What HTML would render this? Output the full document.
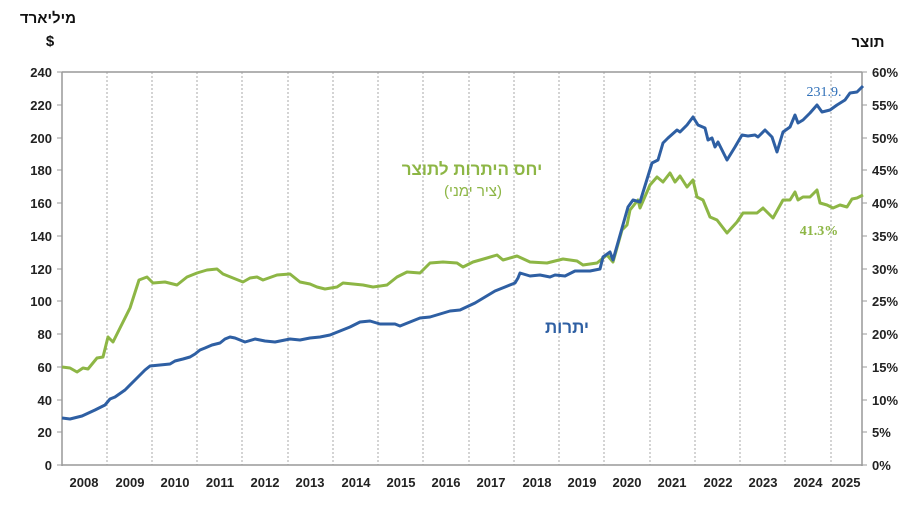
<!DOCTYPE html>
<html><head><meta charset="utf-8"><style>
html,body{margin:0;padding:0;background:#fff;}
svg{display:block;font-family:"Liberation Sans",sans-serif;}
.t{font-size:13px;font-weight:bold;fill:#222;}
</style></head><body>
<svg width="906" height="528" viewBox="0 0 906 528" xmlns="http://www.w3.org/2000/svg">
<rect width="906" height="528" fill="#fff"/>
<g stroke="#aaa" stroke-width="1" stroke-dasharray="2,2">
<line x1="107" y1="72" x2="107" y2="465"/><line x1="152" y1="72" x2="152" y2="465"/><line x1="197" y1="72" x2="197" y2="465"/><line x1="242" y1="72" x2="242" y2="465"/><line x1="288" y1="72" x2="288" y2="465"/><line x1="333" y1="72" x2="333" y2="465"/><line x1="378" y1="72" x2="378" y2="465"/><line x1="423" y1="72" x2="423" y2="465"/><line x1="469" y1="72" x2="469" y2="465"/><line x1="514" y1="72" x2="514" y2="465"/><line x1="559" y1="72" x2="559" y2="465"/><line x1="604" y1="72" x2="604" y2="465"/><line x1="650" y1="72" x2="650" y2="465"/><line x1="695" y1="72" x2="695" y2="465"/><line x1="740" y1="72" x2="740" y2="465"/><line x1="785" y1="72" x2="785" y2="465"/><line x1="831" y1="72" x2="831" y2="465"/>
</g>
<g stroke="#999" stroke-width="1.5" fill="none">
<line x1="62" y1="72" x2="862" y2="72"/>
<line x1="62" y1="72" x2="62" y2="466"/>
<line x1="862" y1="72" x2="862" y2="466"/>
<line x1="62" y1="465" x2="862" y2="465"/>
</g>
<g stroke="#999" stroke-width="1">
<line x1="57" y1="72" x2="62" y2="72"/><line x1="57" y1="105" x2="62" y2="105"/><line x1="57" y1="138" x2="62" y2="138"/><line x1="57" y1="170" x2="62" y2="170"/><line x1="57" y1="203" x2="62" y2="203"/><line x1="57" y1="236" x2="62" y2="236"/><line x1="57" y1="269" x2="62" y2="269"/><line x1="57" y1="301" x2="62" y2="301"/><line x1="57" y1="334" x2="62" y2="334"/><line x1="57" y1="367" x2="62" y2="367"/><line x1="57" y1="400" x2="62" y2="400"/><line x1="57" y1="432" x2="62" y2="432"/><line x1="57" y1="465" x2="62" y2="465"/>
<line x1="862" y1="72" x2="867" y2="72"/><line x1="862" y1="105" x2="867" y2="105"/><line x1="862" y1="138" x2="867" y2="138"/><line x1="862" y1="170" x2="867" y2="170"/><line x1="862" y1="203" x2="867" y2="203"/><line x1="862" y1="236" x2="867" y2="236"/><line x1="862" y1="269" x2="867" y2="269"/><line x1="862" y1="301" x2="867" y2="301"/><line x1="862" y1="334" x2="867" y2="334"/><line x1="862" y1="367" x2="867" y2="367"/><line x1="862" y1="400" x2="867" y2="400"/><line x1="862" y1="432" x2="867" y2="432"/><line x1="862" y1="465" x2="867" y2="465"/>
</g>
<g class="t" text-anchor="end">
<text x="52" y="77" class="t">240</text><text x="52" y="110" class="t">220</text><text x="52" y="143" class="t">200</text><text x="52" y="175" class="t">180</text><text x="52" y="208" class="t">160</text><text x="52" y="241" class="t">140</text><text x="52" y="274" class="t">120</text><text x="52" y="306" class="t">100</text><text x="52" y="339" class="t">80</text><text x="52" y="372" class="t">60</text><text x="52" y="405" class="t">40</text><text x="52" y="437" class="t">20</text><text x="52" y="470" class="t">0</text>
</g>
<g text-anchor="start">
<text x="872" y="77" class="t">60%</text><text x="872" y="110" class="t">55%</text><text x="872" y="143" class="t">50%</text><text x="872" y="175" class="t">45%</text><text x="872" y="208" class="t">40%</text><text x="872" y="241" class="t">35%</text><text x="872" y="274" class="t">30%</text><text x="872" y="306" class="t">25%</text><text x="872" y="339" class="t">20%</text><text x="872" y="372" class="t">15%</text><text x="872" y="405" class="t">10%</text><text x="872" y="437" class="t">5%</text><text x="872" y="470" class="t">0%</text>
</g>
<g text-anchor="middle">
<text x="84" y="487" class="t">2008</text><text x="130" y="487" class="t">2009</text><text x="175" y="487" class="t">2010</text><text x="220" y="487" class="t">2011</text><text x="265" y="487" class="t">2012</text><text x="310" y="487" class="t">2013</text><text x="356" y="487" class="t">2014</text><text x="401" y="487" class="t">2015</text><text x="446" y="487" class="t">2016</text><text x="491" y="487" class="t">2017</text><text x="537" y="487" class="t">2018</text><text x="582" y="487" class="t">2019</text><text x="627" y="487" class="t">2020</text><text x="672" y="487" class="t">2021</text><text x="718" y="487" class="t">2022</text><text x="763" y="487" class="t">2023</text><text x="808" y="487" class="t">2024</text><text x="846" y="487" class="t">2025</text>
</g>
<text x="48" y="23" text-anchor="middle" style="font-size:15px;font-weight:bold;fill:#111">מיליארד</text>
<text x="50" y="46" text-anchor="middle" style="font-size:15px;font-weight:bold;fill:#111">$</text>
<text x="868" y="47" text-anchor="middle" style="font-size:15px;font-weight:bold;fill:#111">תוצר</text>
<polyline fill="none" stroke="#8db645" stroke-width="3" stroke-linejoin="round" points="62,367 70,368 77,372 83,368 88,369 97,358 103,357 108,337 113,342 120,328 130,308 139,280 147,277 153,283 165,282 177,285 187,277 197,273 207,270 217,269 223,274 233,278 243,282 250,278 257,277 263,280 277,275 290,274 300,282 310,284 317,287 325,289 337,287 343,283 363,285 373,287 387,285 397,277 407,272 420,273 430,263 443,262 457,263 463,267 473,262 487,258 497,255 503,260 517,256 530,262 547,263 563,259 577,261 583,265 597,263 607,255 613,262 622,230 627,225 630,210 638,200 640,208 650,185 657,177 663,182 670,173 675,182 680,176 687,187 693,180 697,197 703,200 710,217 717,220 727,233 737,222 743,213 757,213 763,208 773,218 783,200 790,200 795,192 798,200 803,197 810,197 817,190 820,203 827,205 833,208 840,205 847,207 852,199 857,198 863,195"/>
<polyline fill="none" stroke="#2e5fa3" stroke-width="3" stroke-linejoin="round" points="62,418 70,419 82,416 95,410 105,405 110,399 115,397 125,390 135,380 140,375 145,370 150,366 160,365 170,364 175,361 183,359 190,357 195,354 200,350 205,348 212,345 220,343 225,339 230,337 235,338 245,342 255,339 265,341 275,342 290,339 300,340 310,338 320,337 330,335 340,331 350,327 360,322 370,321 380,324 395,324 400,326 410,322 420,318 430,317 440,314 450,311 460,310 475,303 485,297 495,291 505,287 515,283 518,278 520,273 530,276 540,275 550,277 555,275 565,276 575,271 590,271 600,269 603,257 610,252 613,260 628,207 633,200 640,202 652,163 658,160 663,143 668,138 677,130 680,132 687,125 693,117 698,125 705,128 708,140 712,138 715,147 718,142 727,160 735,147 742,135 748,136 755,135 758,137 765,130 772,137 777,152 783,132 790,127 795,115 798,123 803,120 810,113 817,105 822,112 830,110 837,105 845,100 850,93 857,92 863,86"/>
<text x="472" y="175" text-anchor="middle" style="font-size:17px;font-weight:bold;fill:#8db645">יחס היתרות לתוצר</text>
<text x="473" y="196" text-anchor="middle" style="font-size:15px;fill:#8db645">(ציר ימני)</text>
<text x="567" y="333" text-anchor="middle" style="font-size:17px;font-weight:bold;fill:#2e5fa3">יתרות</text>
<text x="824" y="96" text-anchor="middle" direction="ltr" unicode-bidi="bidi-override" style="font-size:14px;fill:#2e6fb8;font-family:'Liberation Serif',serif">231.9.</text>
<text x="819" y="235" text-anchor="middle" direction="ltr" unicode-bidi="bidi-override" style="font-size:14px;fill:#8db645;font-family:'Liberation Serif',serif;font-weight:bold">41.3%</text>
</svg>
</body></html>
